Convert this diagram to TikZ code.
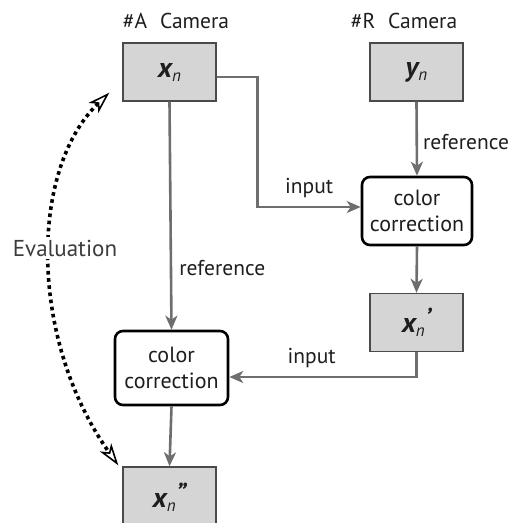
\documentclass[tikz,border=0pt]{standalone}
\usepackage{fontspec}
\setmainfont{PT Sans}
\usetikzlibrary{arrows.meta,calc}
\definecolor{flowgray}{HTML}{6E6E6E}
\definecolor{boxfill}{HTML}{D5D5D5}
\definecolor{boxedge}{HTML}{4A4A4A}
\definecolor{txt}{HTML}{1E1E1E}
\definecolor{evaltxt}{HTML}{3C3C3C}
\tikzset{
  cam/.style={draw=boxedge, fill=boxfill, line width=1.4pt, minimum width=93pt, minimum height=58pt, inner sep=0pt, text=txt},
  ccbox/.style={draw=black, fill=white, line width=2.6pt, rounded corners=8pt, align=center, inner sep=0pt, minimum width=110pt, minimum height=68pt, font=\fontsize{22}{26}\selectfont, text=txt},
  flow/.style={draw=flowgray, line width=2.6pt, -{Stealth[length=14pt,width=12pt,inset=4pt]}},
  lbl/.style={font=\fontsize{21.5}{24}\selectfont, text=txt, inner sep=0pt},
  evalarrow/.style={draw=black, line width=3.6pt, dash pattern=on 3.6pt off 3.6pt, {Stealth[open,length=22pt,width=14pt,inset=6pt,line width=1.6pt,fill=white]}-{Stealth[open,length=22pt,width=14pt,inset=6pt,line width=1.6pt,fill=white]}}
}
\newcommand{\xvar}[2]{{\fontsize{28}{28}\selectfont\bfseries\itshape #1}\raisebox{-4pt}{\fontsize{17}{17}\selectfont\itshape #2}}
\begin{document}
\begin{tikzpicture}[x=1pt,y=-1pt]
\useasboundingbox (0,0) rectangle (523,523);
\node[cam] (xn) at (169.5,72) {\xvar{x}{n}};
\node[cam] (yn) at (416.5,72) {\xvar{y}{n}};
\node[ccbox] (cc1) at (417,211) {color\\correction};
\node[cam] (xnp) at (416.5,322.5) {\xvar{x}{n}\raisebox{6pt}{\fontsize{26}{26}\selectfont\bfseries\itshape\kern0.5pt'}};
\node[cam, minimum height=60pt] (xnpp) at (169.5,497) {\xvar{x}{n}\raisebox{6pt}{\fontsize{26}{26}\selectfont\bfseries\itshape\kern0.5pt''}};
\node[ccbox, minimum width=113pt, minimum height=74pt] (cc2) at (171.5,368) {color\\correction};

\node[lbl] (tA) at (176,21) {\#A\hspace{0.6em}Camera};
\node[lbl] (tR) at (404,21) {\#R\hspace{0.6em}Camera};

\draw[flow] (yn.south) -- node[lbl, right=5pt, pos=0.55] (l1) {reference} (cc1.north);
\draw[flow] ([yshift=-5pt]xn.east) -- ++(41,0) |- node[lbl, pos=0.75, above=8pt] (l2) {input} ([yshift=4pt]cc1.west);
\draw[flow] (cc1.south) -- (xnp.north);
\draw[flow] (xnp.south) |- node[lbl, pos=0.78, above=8pt] (l3) {input} ([yshift=-9pt]cc2.east);
\draw[flow] (xn.south) -- node[lbl, right=7pt, pos=0.73] (l4) {reference} (cc2.north);
\draw[flow] (cc2.south) -- (xnpp.north);

\coordinate (evA) at ([xshift=-13pt,yshift=9pt]xn.south west);
\coordinate (evB) at ([xshift=-4pt,yshift=1pt]xnpp.north west);
\draw[evalarrow] (evA) .. controls (29,170) and (29,340) .. (evB);
\node[lbl, font=\fontsize{23}{26}\selectfont, fill=white, text=evaltxt, inner sep=3pt] (ev) at (65,248) {Evaluation};
\end{tikzpicture}
\end{document}
